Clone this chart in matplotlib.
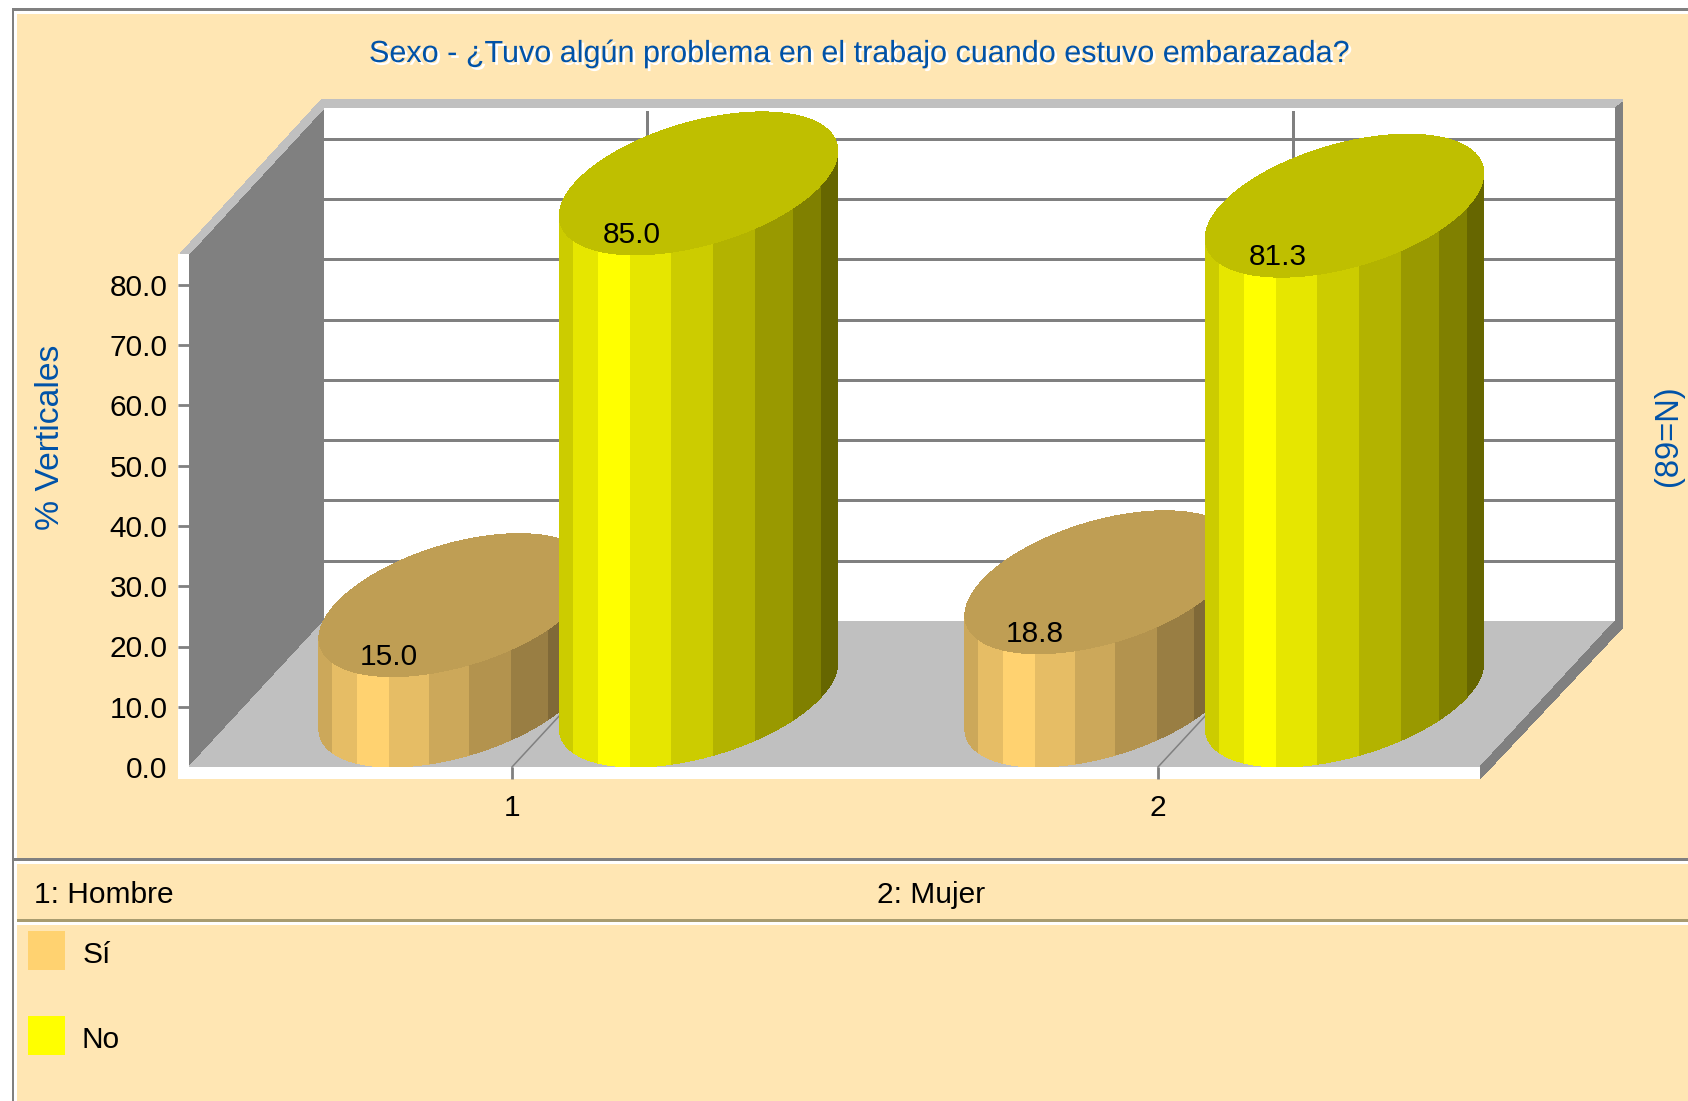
#!/usr/bin/env python3
"""Recreate the 3D cylinder chart: Sexo - problema en el trabajo durante el embarazo."""

import numpy as np
import matplotlib
matplotlib.use('Agg')
import matplotlib.pyplot as plt
import matplotlib.patheffects as pe
from matplotlib.colors import to_rgb

W, H = 1688, 1101

# data
categories = [1, 2]
category_names = ['1: Hombre', '2: Mujer']
series_names = ['Sí', 'No']
si_values = [15.0, 18.8]
no_values = [85.0, 81.3]
y_ticks = [0, 10, 20, 30, 40, 50, 60, 70, 80]

title = 'Sexo - ¿Tuvo algún problema en el trabajo cuando estuvo embarazada?'
y_label = '% Verticales'
n_label = '(89=N)'

# colours
BEIGE = '#FFE6B3'
GREY = '#808080'
LIGHT = '#C0C0C0'
BLUE = '#0052A8'
SI_COLOR = '#FFD270'
NO_COLOR = '#FFFF00'
SHADES = [0.80, 0.90, 1.00, 0.90, 0.80, 0.70, 0.60, 0.50, 0.40]
TOP_SHADE = 0.75
# facet edges round the visible half of a cylinder, degrees
FACET_EDGES = [180, 154, 136, 119, 101, 84, 66, 47, 28, 0]

# plot geometry, in pixels of the output
FRONT_L, FRONT_R = 189, 1481
ZERO_Y, TOP_Y = 767, 285          # y of value 0 and value 80
PX_X = (FRONT_R - FRONT_L) / 2.0  # pixels per category
PX_Y = (ZERO_Y - TOP_Y) / 80.0    # pixels per value unit
DEPTH_X, DEPTH_Y = 135, 146
SI_OFFSET = -120 / PX_X           # bar centre from the category tick
NO_OFFSET = 123 / PX_X
LABEL_SHIFT = -3 / PX_X
SI_RADIUS = 121 / PX_X
NO_RADIUS = 124 / PX_X
SKEW_X = 63.5 / PX_X
SKEW_Y = 71.5 / PX_Y
TEXT_SIZE = 21.5

plt.rcParams['font.family'] = ['Liberation Sans', 'DejaVu Sans']

fig = plt.figure(figsize=(W / 100, H / 100), dpi=100, facecolor='white')


def poly(axis, pts, color, z=1):
    axis.fill(*zip(*pts), color=color, lw=0, zorder=z, antialiased=False)


# page furniture, drawn in pixel coordinates
bg = fig.add_axes([0, 0, 1, 1], zorder=0)
bg.set_xlim(0, W)
bg.set_ylim(H, 0)
bg.axis('off')

poly(bg, [(12, 8), (W, 8), (W, H), (12, H)], GREY)
poly(bg, [(14, 11), (W, 11), (W, H), (14, H)], 'white')
poly(bg, [(17, 14), (W, 14), (W, 858), (17, 858)], BEIGE)
poly(bg, [(14, 858), (W, 858), (W, 861), (14, 861)], GREY)
poly(bg, [(17, 864), (W, 864), (W, 919), (17, 919)], BEIGE)
poly(bg, [(17, 919), (W, 919), (W, 922), (17, 922)], '#A89C70')
poly(bg, [(17, 925), (W, 925), (W, H), (17, H)], BEIGE)

back_l, back_r = FRONT_L + DEPTH_X, FRONT_R + DEPTH_X - 1
back_y, wall_top = ZERO_Y - DEPTH_Y, 108
poly(bg, [(back_l, wall_top), (back_r, wall_top), (back_r, back_y), (back_l, back_y)], 'white')
poly(bg, [(178, 254), (FRONT_L, 254), (FRONT_L, 779), (178, 779)], 'white')
poly(bg, [(178, ZERO_Y), (FRONT_R, ZERO_Y), (FRONT_R, 779), (178, 779)], 'white')
poly(bg, [(FRONT_L, ZERO_Y), (back_l, back_y), (back_l, wall_top), (FRONT_L, 254)], GREY, 2)
poly(bg, [(FRONT_L, ZERO_Y), (back_l, back_y), (back_r, back_y), (FRONT_R - 1, ZERO_Y)], LIGHT, 2)
poly(bg, [(180, 254), (322, 99), (back_r + 8, 99), (back_r + 8, 102), (back_r, wall_top),
          (back_l, wall_top), (FRONT_L, 254)], LIGHT, 2)
poly(bg, [(back_r, wall_top), (back_r + 8, 102), (back_r + 8, 627), (back_r, back_y)], GREY, 2)
poly(bg, [(FRONT_R - 1, ZERO_Y), (back_r, back_y), (back_r + 8, back_y), (back_r + 8, 627),
          (FRONT_R - 1, 779)], GREY, 2)

# legend swatches
poly(bg, [(28, 931), (65, 931), (65, 970), (28, 970)], SI_COLOR, 2)
poly(bg, [(28, 1016), (65, 1016), (65, 1055), (28, 1055)], NO_COLOR, 2)

bg.text(858, 54, title, color=BLUE, fontsize=22, ha='center', va='center',
        path_effects=[pe.SimplePatchShadow(offset=(2, -2), shadow_rgbFace='white', alpha=1),
                      pe.Normal()])
bg.text(51, 437, y_label, color=BLUE, fontsize=24.3, rotation=90, ha='center', va='center')
bg.text(1669, 436, n_label, color=BLUE, fontsize=23.5, rotation=90, ha='center', va='center')
bg.text(34, 895, category_names[0], fontsize=TEXT_SIZE, va='center')
bg.text(877, 895, category_names[1], fontsize=TEXT_SIZE, va='center')
bg.text(83, 955, series_names[0], fontsize=TEXT_SIZE, va='center')
bg.text(82, 1040, series_names[1], fontsize=TEXT_SIZE, va='center')

# chart axes: the front plane of the box
ax = fig.add_axes([FRONT_L / W, 1 - ZERO_Y / H, (FRONT_R - FRONT_L) / W, (ZERO_Y - TOP_Y) / H],
                  zorder=1)
ax.set_xlim(0.5, 2.5)
ax.set_ylim(0, 80)
ax.patch.set_visible(False)
for spine in ax.spines.values():
    spine.set_visible(False)

depth_x = DEPTH_X / PX_X
depth_y = DEPTH_Y / PX_Y

ax.set_yticks(y_ticks, [f'{v:.1f}' for v in y_ticks], fontsize=TEXT_SIZE)
ax.set_xticks(categories, [str(c) for c in categories], fontsize=TEXT_SIZE)
ax.tick_params(axis='y', length=8, width=2.0, color=GREY, pad=7.5)
ax.tick_params(axis='x', length=8.6, width=2.0, color=GREY, pad=11)
ax.yaxis.get_major_ticks()[0].tick1line.set_visible(False)

# back wall grid and category guides
for v in y_ticks[1:]:
    ax.plot([0.5 + depth_x, 2.5 + depth_x], [v + depth_y, v + depth_y], color=GREY,
            lw=2.0, solid_capstyle='butt', clip_on=False, zorder=1.5, antialiased=False)
for c in categories:
    ax.plot([c, c + depth_x], [0, depth_y], color=GREY, lw=1.1, clip_on=False, zorder=1.5)
    ax.plot([c + depth_x, c + depth_x], [depth_y, 84.6 + depth_y],
            color=GREY, lw=2.0, clip_on=False, zorder=1.5, antialiased=False,
            solid_capstyle='butt')


def shade(color, factor):
    return tuple(c * factor for c in to_rgb(color))


def cylinder(x, value, color, radius, z):
    """Skewed cylinder whose front edge rises from 0 to value at category position x."""
    phi = np.degrees(np.arctan2(SKEW_X, radius))

    def rim(t, level):
        t = np.radians(t)
        return (x + SKEW_X + radius * np.cos(t) + SKEW_X * np.sin(t),
                level + SKEW_Y + SKEW_Y * np.sin(t))

    for a0, a1, s in zip(FACET_EDGES[:-1], FACET_EDGES[1:], SHADES):
        t = np.linspace(phi - a0, phi - a1, 30)
        xb, yb = rim(t, 0)
        xt, yt = rim(t, value)
        ax.fill(np.r_[xb, xt[::-1]], np.r_[yb, yt[::-1]], color=shade(color, s), lw=0,
                clip_on=False, zorder=z, antialiased=False)
    xt, yt = rim(np.linspace(0, 360, 181), value)
    ax.fill(xt, yt, color=shade(color, TOP_SHADE), lw=0, clip_on=False, zorder=z + 0.1,
            antialiased=False)
    ax.text(x + LABEL_SHIFT, value + 3.3, f'{value:.1f}', fontsize=TEXT_SIZE, ha='center',
            va='center', zorder=z + 0.2)


for c, si, no in zip(categories, si_values, no_values):
    cylinder(c + SI_OFFSET, si, SI_COLOR, SI_RADIUS, 3)
    cylinder(c + NO_OFFSET, no, NO_COLOR, NO_RADIUS, 4)

fig.savefig('out.png', dpi=100)
